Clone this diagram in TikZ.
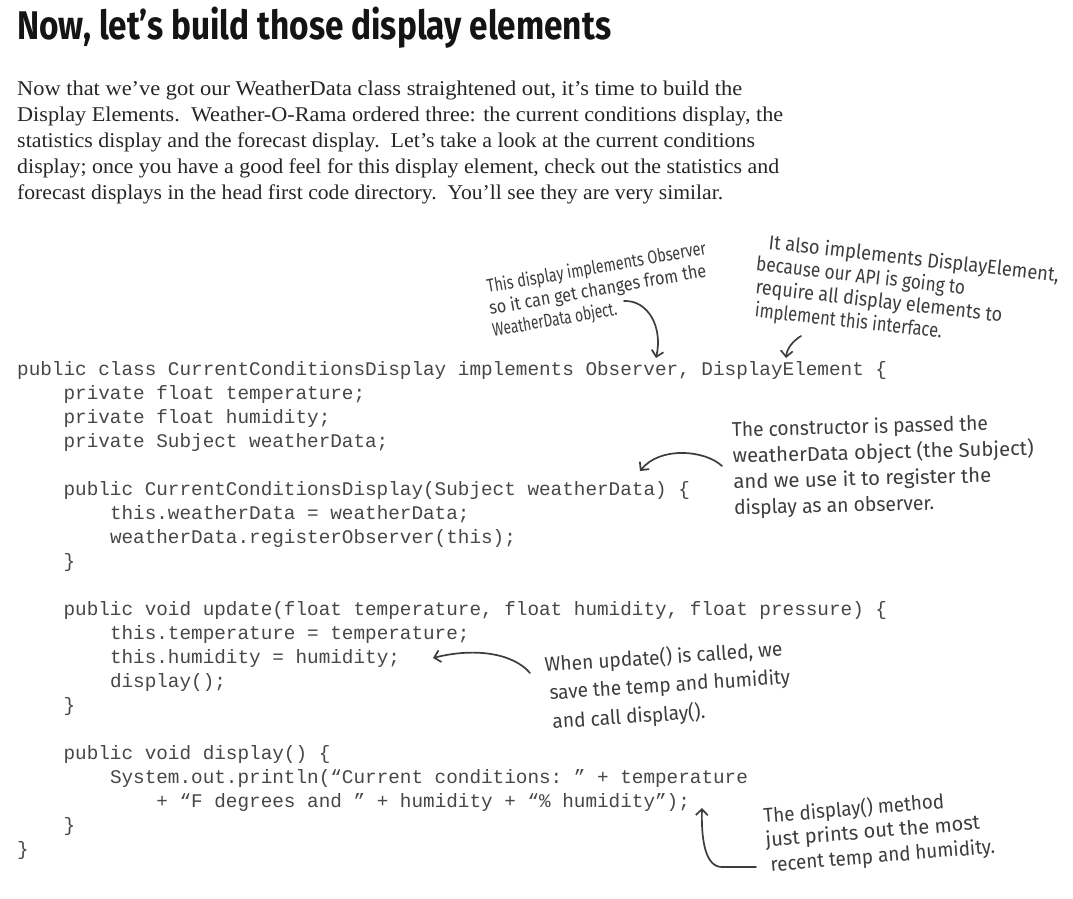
\documentclass[tikz,border=0pt]{standalone}
\usepackage{fontspec}
\usepackage{graphicx}
\usetikzlibrary{arrows.meta}
\setmainfont{Liberation Serif}
\newfontfamily\codefont{Liberation Mono}
\newfontfamily\handfont{Fira Sans}
\newfontfamily\titlefont{Fira Sans}
\definecolor{titlecol}{HTML}{141414}
\definecolor{paracol}{HTML}{262626}
\definecolor{codecol}{HTML}{474747}
\definecolor{handcol}{HTML}{3d3d3d}
\newdimen\fitlen
\newcommand\fitto[2]{\settowidth{\fitlen}{#2}\scalebox{\fpeval{round(#1/\fitlen,4)}}[1]{#2}}
\newcommand\cl[3]{\node[codeline] (c#1) at ({17+#2*11.6},{375+24*(#1-1)}) {#3};}
\tikzset{
  titletext/.style={anchor=base west, inner sep=0pt, text=titlecol,
    font=\titlefont\bfseries\fontsize{40}{48}\selectfont},
  paraline/.style={anchor=base west, inner sep=0pt, text=paracol,
    font=\fontsize{21}{25}\selectfont},
  codeline/.style={anchor=base west, inner sep=0pt, text=codecol,
    font=\codefont\frenchspacing\fontsize{19.33}{24}\selectfont},
  hand/.style={anchor=base west, inner sep=0pt, text=handcol,
    font=\handfont\fontsize{20}{24}\selectfont},
  handsmall/.style={hand, font=\handfont\fontsize{18.5}{22}\selectfont},
  harrow/.style={draw=handcol, line width=1.7pt, line cap=round,
    -{Straight Barb[length=6pt,width=12pt]}}
}
\begin{document}
\begin{tikzpicture}[x=1pt,y=-1pt]
\useasboundingbox (0,0) rectangle (1073,899);
\fill[white] (0,0) rectangle (1073,899);

% title
\node[titletext] (title) at (17,40) {\fitto{594pt}{Now, let’s build those display elements}};

% paragraph
\node[paraline] (p1) at (17,95) {\fitto{725pt}{Now that we’ve got our WeatherData class straightened out, it’s time to build the}};
\node[paraline] (p2) at (17,121) {\fitto{766pt}{Display Elements.\ \ Weather-O-Rama ordered three: the current conditions display, the}};
\node[paraline] (p3) at (17,147) {\fitto{738pt}{statistics display and the forecast display.\ \ Let’s take a look at the current conditions}};
\node[paraline] (p4) at (17,173) {\fitto{762pt}{display; once you have a good feel for this display element, check out the statistics and}};
\node[paraline] (p5) at (17,199) {\fitto{706pt}{forecast displays in the head first code directory.\ \ You’ll see they are very similar.}};

% code
\cl{1}{0}{public class CurrentConditionsDisplay implements Observer, DisplayElement \{}
\cl{2}{4}{private float temperature;}
\cl{3}{4}{private float humidity;}
\cl{4}{4}{private Subject weatherData;}
\cl{6}{4}{public CurrentConditionsDisplay(Subject weatherData) \{}
\cl{7}{8}{this.weatherData = weatherData;}
\cl{8}{8}{weatherData.registerObserver(this);}
\cl{9}{4}{\}}
\cl{11}{4}{public void update(float temperature, float humidity, float pressure) \{}
\cl{12}{8}{this.temperature = temperature;}
\cl{13}{8}{this.humidity = humidity;}
\cl{14}{8}{display();}
\cl{15}{4}{\}}
\cl{17}{4}{public void display() \{}
\cl{18}{8}{System.out.println(“Current conditions: ” + temperature}
\cl{19}{12}{+ “F degrees and ” + humidity + “\% humidity”);}
\cl{20}{4}{\}}
\cl{21}{0}{\}}

% annotation 1
\begin{scope}[shift={(488,293)}, rotate=10, every node/.append style={transform shape}]
\node[handsmall] (a1a) at (0,0) {\fitto{222pt}{This display implements Observer}};
\node[handsmall] (a1b) at (-1.7,22) {\fitto{220pt}{so it can get changes from the}};
\node[handsmall] (a1c) at (-2.2,44) {\fitto{126pt}{WeatherData object.}};
\end{scope}
\coordinate (s1) at (624,301);
\coordinate (t1) at (656,358);
\draw[harrow] (s1) .. controls (648,300) and (663,327) .. (t1);

% annotation 2
\begin{scope}[shift={(768,249)}, rotate=-6.5, every node/.append style={transform shape, font=\handfont\fontsize{18.5}{22}\selectfont}]
\node[hand] (a2a) at (0,0) {\fitto{292pt}{It also implements DisplayElement,}};
\node[hand] (a2b) at (-10,23) {\fitto{210pt}{because our API is going to}};
\node[hand] (a2c) at (-8,46) {\fitto{248pt}{require all display elements to}};
\node[hand] (a2d) at (-6,69) {\fitto{188pt}{implement this interface.}};
\end{scope}
\coordinate (s2) at (801,336);
\coordinate (t2) at (786,358);
\draw[harrow] (s2) .. controls (793,341) and (787,348) .. (t2);

% annotation 3
\begin{scope}[shift={(732,437)}, rotate=1.5, every node/.append style={transform shape}]
\node[hand] (a3a) at (0,0) {\fitto{256pt}{The constructor is passed the}};
\node[hand] (a3b) at (0,26) {\fitto{301pt}{weatherData object (the Subject)}};
\node[hand] (a3c) at (0,52) {\fitto{258pt}{and we use it to register the}};
\node[hand] (a3d) at (0,78) {\fitto{200pt}{display as an observer.}};
\end{scope}
\coordinate (s3) at (722,466);
\coordinate (t3) at (640,471);
\draw[harrow] (s3) .. controls (705,450) and (660,446) .. (t3);

% annotation 4
\begin{scope}[shift={(545,672)}, rotate=3.8, every node/.append style={transform shape}]
\node[hand] (a4a) at (0,0) {\fitto{238pt}{When update() is called, we}};
\node[hand] (a4b) at (3,28) {\fitto{241pt}{save the temp and humidity}};
\node[hand] (a4c) at (4,57) {\fitto{153pt}{and call display().}};
\end{scope}
\coordinate (s4) at (530,673);
\coordinate (t4) at (433,658);
\draw[harrow] (s4) .. controls (512,652) and (472,648) .. (t4);

% annotation 5
\begin{scope}[shift={(764,823)}, rotate=4.7, every node/.append style={transform shape}]
\node[hand] (a5a) at (0,0) {\fitto{181pt}{The display() method}};
\node[hand] (a5b) at (0,24) {\fitto{215pt}{just prints out the most}};
\node[hand] (a5c) at (3,49) {\fitto{225pt}{recent temp and humidity.}};
\end{scope}
\coordinate (s5) at (756,867);
\coordinate (k5) at (722,867);
\coordinate (t5) at (702,808);
\draw[harrow] (s5) -- (k5) .. controls (707,867) and (701,845) .. (t5);
\end{tikzpicture}
\end{document}
